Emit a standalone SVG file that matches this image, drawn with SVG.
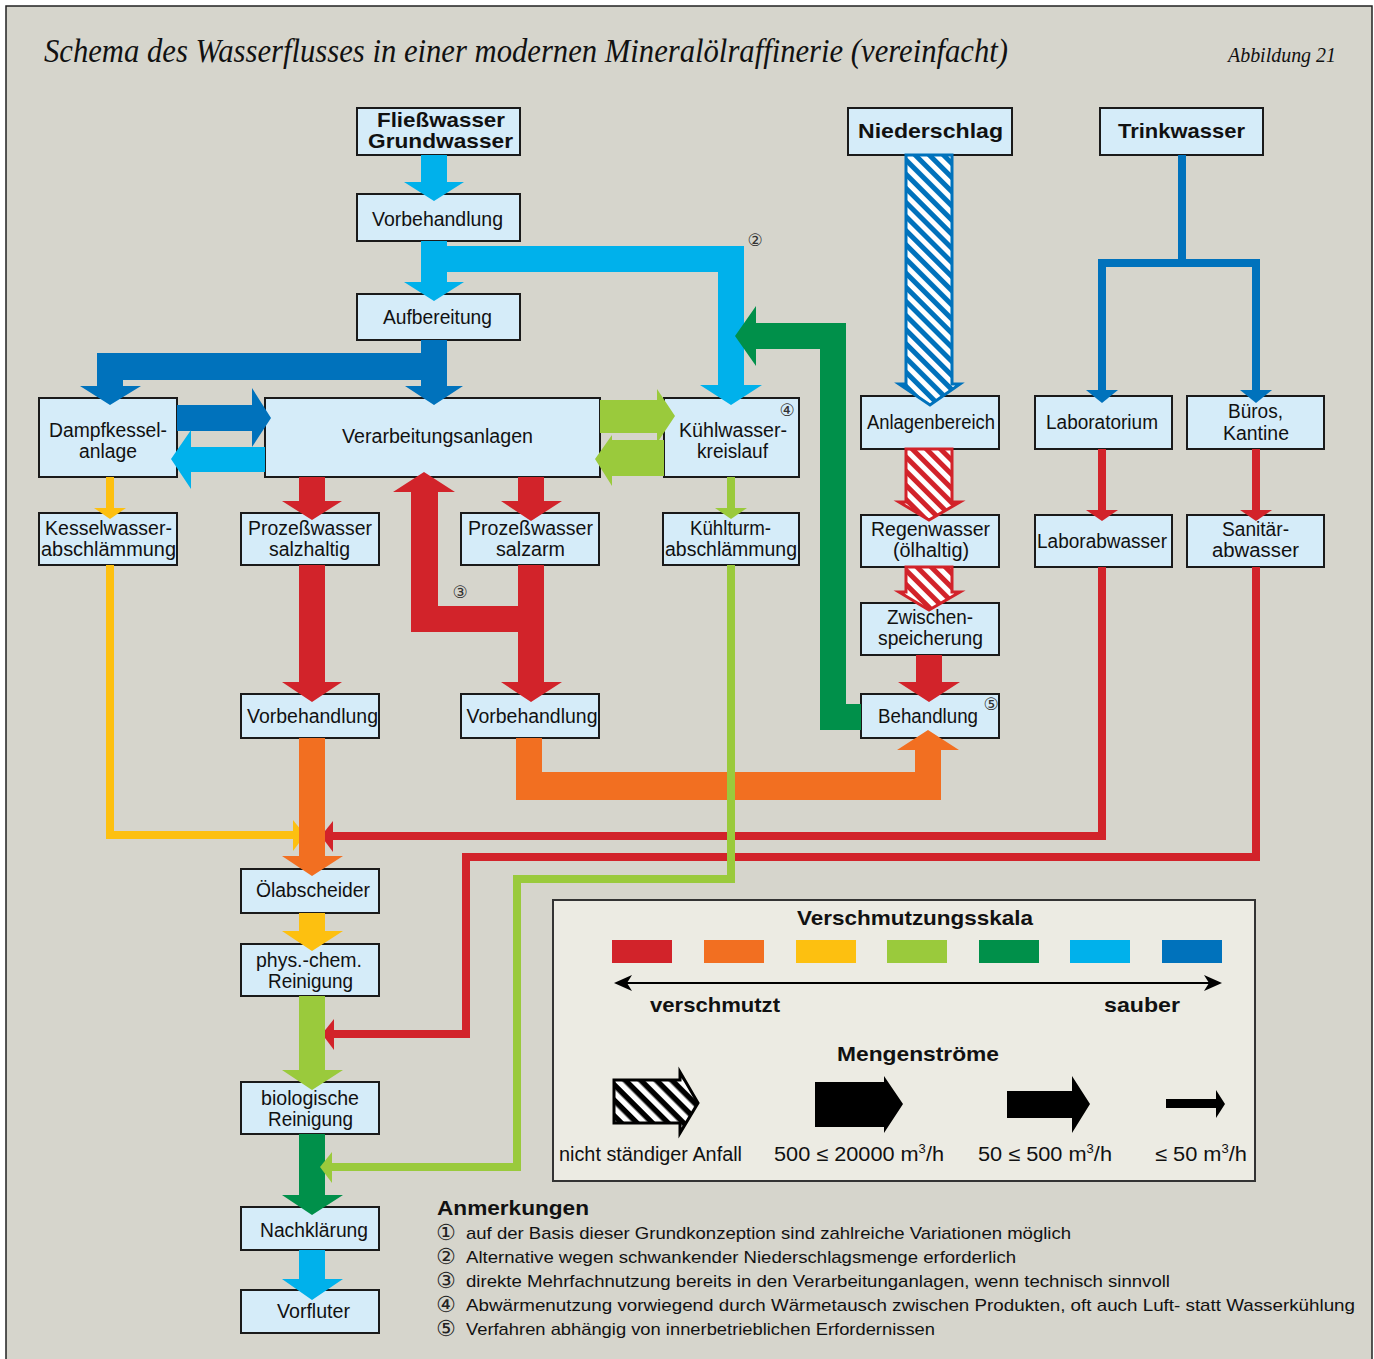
<svg xmlns="http://www.w3.org/2000/svg" width="1374" height="1359" viewBox="0 0 1374 1359">
<defs>
<style>
.bg{fill:#d6d5cc}
.n rect{fill:#d5ecf9;stroke:#1a1a1a;stroke-width:2}
.t{font-family:"Liberation Sans",Arial,sans-serif;font-size:20px;fill:#111;text-anchor:middle}
.b{font-weight:bold;font-size:21px}
.c{font-family:"DejaVu Sans",sans-serif;font-size:17px;fill:#333;text-anchor:middle}
.ln{fill:none;stroke-width:8;stroke-linejoin:miter}
.red{fill:#d2232a}.org{fill:#f26f21}.yel{fill:#fdc010}.lgr{fill:#9aca3c}.dgr{fill:#00904a}.cya{fill:#00b1eb}.blu{fill:#0072bc}
.sred{stroke:#d2232a}.syel{stroke:#fdc010}.slgr{stroke:#9aca3c}.sblu{stroke:#0072bc}
.lt{font-family:"Liberation Sans",Arial,sans-serif;font-size:20px;fill:#111}
.nt{font-family:"Liberation Sans",Arial,sans-serif;font-size:17px;fill:#111}
</style>
<pattern id="hb" width="10" height="10" patternUnits="userSpaceOnUse" patternTransform="rotate(45)">
<rect width="10" height="10" fill="#fff"/><rect width="10" height="5" fill="#0072bc"/>
</pattern>
<pattern id="hr" width="10" height="10" patternUnits="userSpaceOnUse" patternTransform="rotate(45)">
<rect width="10" height="10" fill="#fff"/><rect width="10" height="5" fill="#d2232a"/>
</pattern>
<pattern id="hk" width="11" height="11" patternUnits="userSpaceOnUse" patternTransform="rotate(45)">
<rect width="11" height="11" fill="#fff"/><rect width="11" height="5.5" fill="#000"/>
</pattern>
</defs>

<rect x="0" y="0" width="1374" height="1359" fill="#fff"/>
<rect class="bg" x="6" y="6" width="1366" height="1362" stroke="#222" stroke-width="1.5"/>

<text x="44" y="62" font-family="'Liberation Serif',serif" font-style="italic" font-size="33" fill="#111" textLength="964" lengthAdjust="spacingAndGlyphs">Schema des Wasserflusses in einer modernen Mineralölraffinerie (vereinfacht)</text>
<text x="1228" y="62" font-family="'Liberation Serif',serif" font-style="italic" font-size="21" fill="#111" textLength="108" lengthAdjust="spacingAndGlyphs">Abbildung 21</text>

<g id="nodes">
<g id="n-fliess" class="n"><rect x="357" y="108" width="163" height="47"/><text class="t b" x="441" y="127" textLength="128" lengthAdjust="spacingAndGlyphs">Fließwasser</text><text class="t b" x="440.5" y="148" textLength="145" lengthAdjust="spacingAndGlyphs">Grundwasser</text></g>
<g id="n-vorb1" class="n"><rect x="357" y="194" width="163" height="47"/><text class="t" x="437.5" y="226" textLength="131" lengthAdjust="spacingAndGlyphs">Vorbehandlung</text></g>
<g id="n-aufb" class="n"><rect x="357" y="294" width="163" height="46"/><text class="t" x="437.5" y="324" textLength="109" lengthAdjust="spacingAndGlyphs">Aufbereitung</text></g>
<g id="n-dampf" class="n"><rect x="39" y="398" width="138" height="79"/><text class="t" x="108" y="437" textLength="118" lengthAdjust="spacingAndGlyphs">Dampfkessel-</text><text class="t" x="108" y="458" textLength="58" lengthAdjust="spacingAndGlyphs">anlage</text></g>
<g id="n-verarb" class="n"><rect x="265" y="398" width="335" height="79"/><text class="t" x="437.5" y="443" textLength="191" lengthAdjust="spacingAndGlyphs">Verarbeitungsanlagen</text></g>
<g id="n-kuehl" class="n"><rect x="664" y="398" width="135" height="79"/><text class="t" x="733" y="437" textLength="108" lengthAdjust="spacingAndGlyphs">Kühlwasser-</text><text class="t" x="732.5" y="458" textLength="71" lengthAdjust="spacingAndGlyphs">kreislauf</text><text class="c" x="787" y="416">④</text></g>
<g id="n-nieder" class="n"><rect x="848" y="108" width="164" height="47"/><text class="t b" x="930.5" y="138" textLength="145" lengthAdjust="spacingAndGlyphs">Niederschlag</text></g>
<g id="n-trink" class="n"><rect x="1100" y="108" width="163" height="47"/><text class="t b" x="1181.5" y="138" textLength="127" lengthAdjust="spacingAndGlyphs">Trinkwasser</text></g>
<g id="n-anlagen" class="n"><rect x="861" y="396" width="138" height="53"/><text class="t" x="931" y="429" textLength="128" lengthAdjust="spacingAndGlyphs">Anlagenbereich</text></g>
<g id="n-labor" class="n"><rect x="1035" y="396" width="137" height="53"/><text class="t" x="1102" y="429" textLength="112" lengthAdjust="spacingAndGlyphs">Laboratorium</text></g>
<g id="n-bueros" class="n"><rect x="1187" y="396" width="137" height="53"/><text class="t" x="1255.5" y="418" textLength="55" lengthAdjust="spacingAndGlyphs">Büros,</text><text class="t" x="1256" y="440" textLength="66" lengthAdjust="spacingAndGlyphs">Kantine</text></g>
<g id="n-kessel" class="n"><rect x="39" y="513" width="138" height="52"/><text class="t" x="108.5" y="535" textLength="127" lengthAdjust="spacingAndGlyphs">Kesselwasser-</text><text class="t" x="108.5" y="556" textLength="135" lengthAdjust="spacingAndGlyphs">abschlämmung</text></g>
<g id="n-salzhaltig" class="n"><rect x="241" y="513" width="138" height="52"/><text class="t" x="310" y="535" textLength="124" lengthAdjust="spacingAndGlyphs">Prozeßwasser</text><text class="t" x="309.5" y="556" textLength="81" lengthAdjust="spacingAndGlyphs">salzhaltig</text></g>
<g id="n-salzarm" class="n"><rect x="461" y="513" width="138" height="52"/><text class="t" x="530.5" y="535" textLength="125" lengthAdjust="spacingAndGlyphs">Prozeßwasser</text><text class="t" x="530.5" y="556" textLength="69" lengthAdjust="spacingAndGlyphs">salzarm</text></g>
<g id="n-kuehlturm" class="n"><rect x="663" y="513" width="136" height="52"/><text class="t" x="730.5" y="535" textLength="81" lengthAdjust="spacingAndGlyphs">Kühlturm-</text><text class="t" x="731" y="556" textLength="132" lengthAdjust="spacingAndGlyphs">abschlämmung</text></g>
<g id="n-regen" class="n"><rect x="861" y="515" width="138" height="52"/><text class="t" x="930.5" y="536" textLength="119" lengthAdjust="spacingAndGlyphs">Regenwasser</text><text class="t" x="931" y="557" textLength="76" lengthAdjust="spacingAndGlyphs">(ölhaltig)</text></g>
<g id="n-laborab" class="n"><rect x="1035" y="515" width="137" height="52"/><text class="t" x="1102" y="548" textLength="130" lengthAdjust="spacingAndGlyphs">Laborabwasser</text></g>
<g id="n-sanitaer" class="n"><rect x="1187" y="515" width="137" height="52"/><text class="t" x="1255.5" y="536" textLength="67" lengthAdjust="spacingAndGlyphs">Sanitär-</text><text class="t" x="1255.5" y="557" textLength="87" lengthAdjust="spacingAndGlyphs">abwasser</text></g>
<g id="n-zwischen" class="n"><rect x="861" y="603" width="138" height="52"/><text class="t" x="930" y="624" textLength="86" lengthAdjust="spacingAndGlyphs">Zwischen-</text><text class="t" x="930.5" y="645" textLength="105" lengthAdjust="spacingAndGlyphs">speicherung</text></g>
<g id="n-vorb2" class="n"><rect x="241" y="694" width="138" height="44"/><text class="t" x="312.5" y="723" textLength="131" lengthAdjust="spacingAndGlyphs">Vorbehandlung</text></g>
<g id="n-vorb3" class="n"><rect x="461" y="694" width="138" height="44"/><text class="t" x="532" y="723" textLength="131" lengthAdjust="spacingAndGlyphs">Vorbehandlung</text></g>
<g id="n-behandlung" class="n"><rect x="861" y="694" width="138" height="44"/><text class="t" x="928" y="723" textLength="100" lengthAdjust="spacingAndGlyphs">Behandlung</text><text class="c" x="991" y="710" font-size="13">⑤</text></g>
<g id="n-oel" class="n"><rect x="241" y="869" width="138" height="44"/><text class="t" x="313" y="897" textLength="114" lengthAdjust="spacingAndGlyphs">Ölabscheider</text></g>
<g id="n-phys" class="n"><rect x="241" y="944" width="138" height="52"/><text class="t" x="309" y="967" textLength="106" lengthAdjust="spacingAndGlyphs">phys.-chem.</text><text class="t" x="310.5" y="988" textLength="85" lengthAdjust="spacingAndGlyphs">Reinigung</text></g>
<g id="n-bio" class="n"><rect x="241" y="1082" width="138" height="52"/><text class="t" x="310" y="1105" textLength="98" lengthAdjust="spacingAndGlyphs">biologische</text><text class="t" x="310.5" y="1126" textLength="85" lengthAdjust="spacingAndGlyphs">Reinigung</text></g>
<g id="n-nach" class="n"><rect x="241" y="1207" width="138" height="43"/><text class="t" x="314" y="1237" textLength="108" lengthAdjust="spacingAndGlyphs">Nachklärung</text></g>
<g id="n-vorfluter" class="n"><rect x="241" y="1290" width="138" height="43"/><text class="t" x="313.5" y="1318" textLength="73" lengthAdjust="spacingAndGlyphs">Vorfluter</text></g>
</g>

<g id="connectors">
<path class="ln sred" d="M1102,567 V836 H332"/>
<polygon class="red" points="333,821 321,836 333,852"/>
<path class="ln sred" d="M1256,567 V857 H466 V1034 H333"/>
<polygon class="red" points="334,1019 322,1034 334,1050"/>
<path class="ln syel" d="M110,565 V835 H294"/>
<polygon class="yel" points="293,820 305,835 293,851"/>
<path class="ln sred" d="M1102,449 V511"/>
<polygon class="red" points="1086,510 1118,510 1102,521"/>
<path class="ln sred" d="M1256,449 V511"/>
<polygon class="red" points="1240,510 1272,510 1256,521"/>
<path class="ln sblu" d="M1182,155 V263 M1102,391 V263 H1256 V391"/>
<polygon class="blu" points="1086,390 1118,390 1102,403"/>
<polygon class="blu" points="1240,390 1272,390 1256,403"/>
<path class="ln syel" d="M110,477 V509"/>
<polygon class="yel" points="94,508 126,508 110,519"/>
<polygon class="cya" points="421,155 447,155 447,182 464,182 434,201 404,182 421,182"/>
<polygon class="cya" points="421,241 447,241 447,282 464,282 434,301 404,282 421,282"/>
<polygon class="cya" points="447,246 744,246 744,385 762,385 731,405 700,385 718,385 718,272 447,272"/>
<polygon class="blu" points="421,340 447,340 447,386 463,386 434,405 405,386 421,386"/>
<polygon class="blu" points="97,353 447,353 447,380 123,380 123,386 141,386 110,405 80,386 97,386"/>
<polygon class="blu" points="177,405 252,405 252,388 271,418 252,447 252,431 177,431"/>
<polygon class="cya" points="265,447 191,447 191,430 171,459 191,489 191,472 265,472"/>
<polygon class="lgr" points="600,400 657,400 657,389 675,416 657,443 657,433 600,433"/>
<polygon class="lgr" points="664,440 612,440 612,435 595,459 612,486 612,476 664,476"/>
<polygon class="red" points="299,477 325,477 325,501 342,501 312,520 282,501 299,501"/>
<polygon class="red" points="299,565 325,565 325,682 342,682 312,702 282,682 299,682"/>
<polygon class="org" points="299,738 325,738 325,856 343,856 312,876 282,856 299,856"/>
<polygon class="yel" points="299,913 325,913 325,931 343,931 312,951 282,931 299,931"/>
<polygon class="lgr" points="299,996 325,996 325,1070 343,1070 312,1090 282,1070 299,1070"/>
<polygon class="dgr" points="299,1134 325,1134 325,1195 343,1195 312,1215 282,1195 299,1195"/>
<polygon class="cya" points="299,1250 325,1250 325,1279 343,1279 312,1300 282,1279 299,1279"/>
<polygon class="red" points="518,477 544,477 544,501 562,501 531,521 501,501 518,501"/>
<polygon class="red" points="518,565 544,565 544,682 562,682 531,702 501,682 518,682"/>
<polygon class="red" points="411,632 518,632 518,606 438,606 438,492 455,492 424,472 393,492 411,492"/>
<polygon class="org" points="516,738 542,738 542,772 915,772 915,750 897,750 928,730 959,750 941,750 941,800 516,800"/>
<polygon class="red" points="916,655 942,655 942,682 960,682 929,702 898,682 916,682"/>
<polygon class="dgr" points="861,704 861,730 820,730 820,349 756,349 756,366 735,336 756,306 756,323 846,323 846,704"/>
<path d="M906,155 H952 V384 H960 L930,405 L899,384 H906 Z" fill="url(#hb)" stroke="#0072bc" stroke-width="3"/>
<path d="M906,449 H952 V502 H960 L929,520 L899,502 H906 Z" fill="url(#hr)" stroke="#d2232a" stroke-width="3"/>
<path d="M906,567 H952 V592 H960 L929,610 L899,592 H906 Z" fill="url(#hr)" stroke="#d2232a" stroke-width="3"/>
<path class="ln slgr" d="M731,477 V509"/>
<polygon class="lgr" points="715,508 747,508 731,519"/>
<path class="ln slgr" d="M731,565 V879 H517 V1167 H331"/>
<polygon class="lgr" points="332,1152 320,1167 332,1183"/>
</g>

<text class="c" x="755" y="246">②</text>
<text class="c" x="460" y="598">③</text>

<g id="legend">
<rect x="553" y="900" width="702" height="281" fill="#ecebe3" stroke="#333" stroke-width="2"/>
<text class="t b" x="915" y="925" textLength="236" lengthAdjust="spacingAndGlyphs">Verschmutzungsskala</text>
<rect x="612" y="940" width="60" height="23" class="red"/>
<rect x="704" y="940" width="60" height="23" class="org"/>
<rect x="796" y="940" width="60" height="23" class="yel"/>
<rect x="887" y="940" width="60" height="23" class="lgr"/>
<rect x="979" y="940" width="60" height="23" class="dgr"/>
<rect x="1070" y="940" width="60" height="23" class="cya"/>
<rect x="1162" y="940" width="60" height="23" class="blu"/>
<line x1="624" y1="983" x2="1212" y2="983" stroke="#000" stroke-width="2"/>
<polygon points="614,983 632,975 627,983 632,991" fill="#000"/>
<polygon points="1222,983 1204,975 1209,983 1204,991" fill="#000"/>
<text class="t b" x="715" y="1012" textLength="130" lengthAdjust="spacingAndGlyphs">verschmutzt</text>
<text class="t b" x="1142" y="1012" textLength="76" lengthAdjust="spacingAndGlyphs">sauber</text>
<text class="t b" x="918" y="1061" textLength="162" lengthAdjust="spacingAndGlyphs">Mengenströme</text>
<path d="M614,1080 H680 V1072 L698,1103 L680,1133 V1123 H614 Z" fill="url(#hk)" stroke="#000" stroke-width="3"/>
<polygon points="815,1082 884,1082 884,1076 903,1104 884,1133 884,1127 815,1127" fill="#000"/>
<polygon points="1007,1091 1072,1091 1072,1076 1090,1104 1072,1133 1072,1118 1007,1118" fill="#000"/>
<polygon points="1166,1099 1216,1099 1216,1090 1225,1104 1216,1118 1216,1108 1166,1108" fill="#000"/>
<text class="lt" x="559" y="1161" textLength="183" lengthAdjust="spacingAndGlyphs">nicht ständiger Anfall</text>
<text class="lt" x="774" y="1161" textLength="170" lengthAdjust="spacingAndGlyphs">500 ≤ 20000 m<tspan font-size="12" dy="-8">3</tspan><tspan dy="8">/h</tspan></text>
<text class="lt" x="978" y="1161" textLength="134" lengthAdjust="spacingAndGlyphs">50 ≤ 500 m<tspan font-size="12" dy="-8">3</tspan><tspan dy="8">/h</tspan></text>
<text class="lt" x="1155" y="1161" textLength="92" lengthAdjust="spacingAndGlyphs">≤ 50 m<tspan font-size="12" dy="-8">3</tspan><tspan dy="8">/h</tspan></text>
</g>

<g id="notes">
<text class="lt" x="437" y="1215" font-weight="bold" font-size="21" textLength="152" lengthAdjust="spacingAndGlyphs">Anmerkungen</text>
<g font-family="'DejaVu Sans',sans-serif" font-size="22" fill="#222">
<text x="436" y="1240">①</text><text x="436" y="1264">②</text><text x="436" y="1288">③</text><text x="436" y="1312">④</text><text x="436" y="1336">⑤</text>
</g>
<text class="nt" x="466" y="1239" textLength="605" lengthAdjust="spacingAndGlyphs">auf der Basis dieser Grundkonzeption sind zahlreiche Variationen möglich</text>
<text class="nt" x="466" y="1263" textLength="550" lengthAdjust="spacingAndGlyphs">Alternative wegen schwankender Niederschlagsmenge erforderlich</text>
<text class="nt" x="466" y="1287" textLength="704" lengthAdjust="spacingAndGlyphs">direkte Mehrfachnutzung bereits in den Verarbeitunganlagen, wenn technisch sinnvoll</text>
<text class="nt" x="466" y="1311" textLength="889" lengthAdjust="spacingAndGlyphs">Abwärmenutzung vorwiegend durch Wärmetausch zwischen Produkten, oft auch Luft- statt Wasserkühlung</text>
<text class="nt" x="466" y="1335" textLength="469" lengthAdjust="spacingAndGlyphs">Verfahren abhängig von innerbetrieblichen Erfordernissen</text>
</g>
</svg>
